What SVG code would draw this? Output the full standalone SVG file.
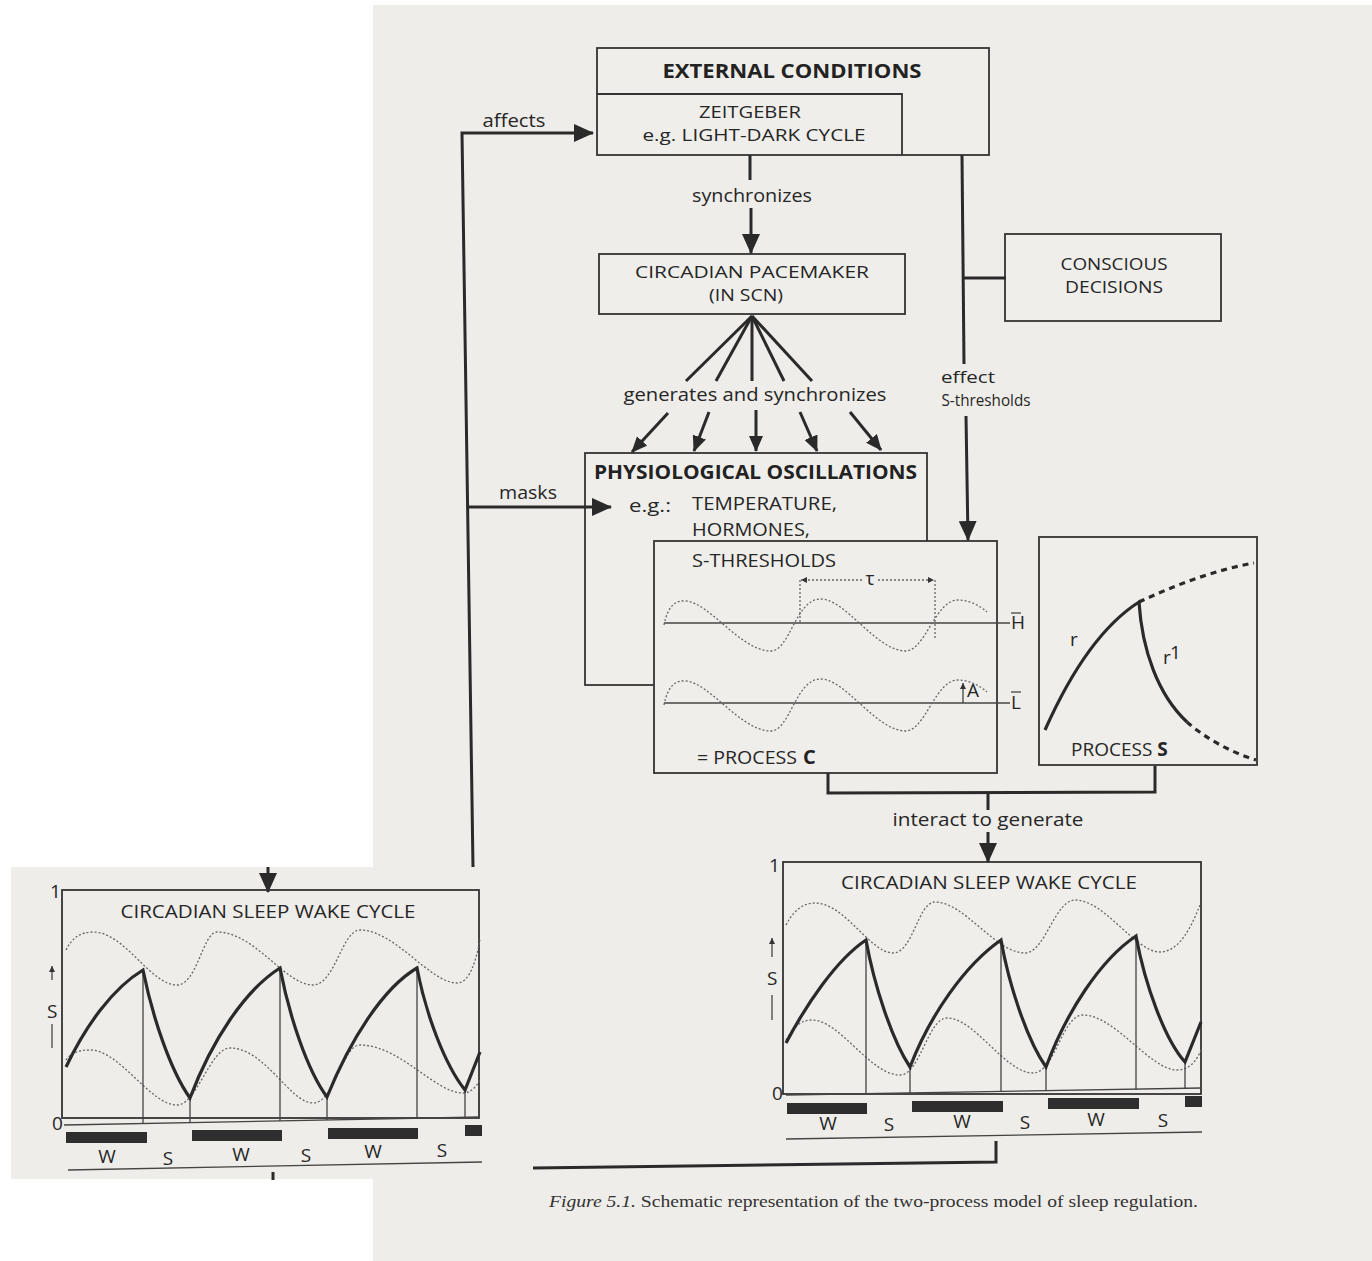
<svg xmlns="http://www.w3.org/2000/svg" width="1372" height="1261" viewBox="0 0 1372 1261">
<style>
.t{font-family:"Open Sans","Liberation Sans",sans-serif;fill:#262626;font-size:19px}
.tb{font-family:"Open Sans","Liberation Sans",sans-serif;fill:#222;font-size:20px;font-weight:bold}
.t2{font-family:"Open Sans","Liberation Sans",sans-serif;fill:#262626;font-size:17px}
.box{fill:#efeeea;stroke:#333;stroke-width:1.8}
.frame{fill:none;stroke:#333;stroke-width:1.8}
.ln{fill:none;stroke:#2a2a2a;stroke-width:3}
.thin{fill:none;stroke:#444;stroke-width:1.3}
.dot{fill:none;stroke:#666;stroke-width:1.3;stroke-dasharray:2 2}
.thick{fill:none;stroke:#2a2a2a;stroke-width:3.2;stroke-linejoin:miter}
.dash{fill:none;stroke:#2a2a2a;stroke-width:3.2;stroke-dasharray:6 5}
.bar{fill:#2e2e2e}
.cap{font-family:"Liberation Serif",serif;fill:#333;font-size:16px}
</style>
<defs>
<marker id="ah" viewBox="0 0 20 18" refX="19" refY="9" markerWidth="20" markerHeight="18" orient="auto" markerUnits="userSpaceOnUse"><path d="M0,0 L20,9 L0,18 z" fill="#2a2a2a"/></marker>
<marker id="ahs" viewBox="0 0 16 14" refX="15" refY="7" markerWidth="16" markerHeight="14" orient="auto" markerUnits="userSpaceOnUse"><path d="M0,0 L16,7 L0,14 z" fill="#2a2a2a"/></marker>
<marker id="tiny" viewBox="0 0 6 6" refX="6" refY="3" markerWidth="6" markerHeight="6" orient="auto" markerUnits="userSpaceOnUse"><path d="M0,0 L6,3 L0,6 z" fill="#333"/></marker>
</defs>
<rect x="0" y="0" width="1372" height="1261" fill="#ffffff"/>
<rect x="373" y="5" width="999" height="1256" fill="#eeede9"/>

<g id="external-conditions">
<rect class="box" x="597" y="48" width="392" height="107"/>
<polyline class="frame" points="597,94 902,94 902,155"/>
<text class="tb" x="792" y="78" text-anchor="middle" textLength="259" lengthAdjust="spacingAndGlyphs">EXTERNAL CONDITIONS</text>
<text class="t2" x="750" y="118" text-anchor="middle" textLength="102" lengthAdjust="spacingAndGlyphs">ZEITGEBER</text>
<text class="t2" x="754" y="141" text-anchor="middle" textLength="223" lengthAdjust="spacingAndGlyphs">e.g. LIGHT-DARK CYCLE</text>
</g>

<g id="circadian-pacemaker">
<rect class="box" x="599" y="254" width="306" height="60"/>
<text class="t2" x="752" y="278" text-anchor="middle" textLength="234" lengthAdjust="spacingAndGlyphs">CIRCADIAN PACEMAKER</text>
<text class="t2" x="746" y="301" text-anchor="middle" textLength="74" lengthAdjust="spacingAndGlyphs">(IN SCN)</text>
</g>

<g id="conscious-decisions">
<rect class="box" x="1005" y="234" width="216" height="87"/>
<text class="t2" x="1114" y="270" text-anchor="middle" textLength="107" lengthAdjust="spacingAndGlyphs">CONSCIOUS</text>
<text class="t2" x="1114" y="293" text-anchor="middle" textLength="98" lengthAdjust="spacingAndGlyphs">DECISIONS</text>
</g>

<g id="physiological-oscillations">
<rect class="box" x="585" y="453" width="342" height="232"/>
<text class="tb" x="594" y="479" textLength="323" lengthAdjust="spacingAndGlyphs">PHYSIOLOGICAL OSCILLATIONS</text>
<text class="t" x="629" y="512" textLength="42" lengthAdjust="spacingAndGlyphs">e.g.:</text>
<text class="t" x="692" y="510" textLength="145" lengthAdjust="spacingAndGlyphs">TEMPERATURE,</text>
<text class="t" x="692" y="536" textLength="118" lengthAdjust="spacingAndGlyphs">HORMONES,</text>
</g>

<g id="process-c">
<rect class="box" x="654" y="541" width="343" height="232"/>
<text class="t" x="692" y="567" textLength="144" lengthAdjust="spacingAndGlyphs">S-THRESHOLDS</text>
<line class="dot" x1="800" y1="580" x2="800" y2="622"/>
<line class="dot" x1="935" y1="580" x2="935" y2="640"/>
<line class="dot" x1="862" y1="580" x2="801" y2="580" marker-end="url(#tiny)"/>
<line class="dot" x1="878" y1="580" x2="934" y2="580" marker-end="url(#tiny)"/>
<text class="t" x="870" y="585" text-anchor="middle" font-size="16">τ</text>
<line class="thin" x1="664" y1="623" x2="1010" y2="623" stroke-width="1.8"/>
<line class="thin" x1="664" y1="703" x2="1010" y2="703" stroke-width="1.8"/>
<text class="t" x="1011" y="629" font-size="15">H</text>
<line class="thin" x1="1011" y1="613" x2="1021" y2="613"/>
<text class="t" x="1011" y="709" font-size="15">L</text>
<line class="thin" x1="1011" y1="692" x2="1021" y2="692"/>
<path class="dot" d="M664,625 C668,605 676,600 686,601 C710,603 740,650 770,651 C790,652 795,600 820,599 C845,598 875,650 905,651 C925,652 935,600 958,600 C970,600 980,606 987,612"/>
<path class="dot" d="M664,705 C668,685 676,680 686,681 C710,683 740,730 770,731 C790,732 795,680 820,679 C845,678 875,730 905,731 C925,732 935,680 958,680 C970,680 980,686 987,692"/>
<line class="thin" x1="963" y1="703" x2="963" y2="683" marker-end="url(#tiny)"/>
<text class="t" x="967" y="697" font-size="12">A</text>
<text class="t" x="697" y="764" textLength="100" lengthAdjust="spacingAndGlyphs">= PROCESS</text>
<text class="tb" x="803" y="764" font-size="19">C</text>
</g>

<g id="process-s">
<rect class="box" x="1039" y="537" width="218" height="228"/>
<path class="thick" d="M1045,730 C1065,685 1095,630 1139,602 C1142,650 1158,695 1187,722"/>
<path class="dash" d="M1139,602 C1175,585 1215,570 1254,563"/>
<path class="dash" d="M1187,722 C1205,738 1230,752 1256,760"/>
<text class="t" x="1070" y="646" font-size="18">r</text>
<text class="t" x="1163" y="664" font-size="17">r</text>
<text class="t" x="1170" y="659" font-size="13">1</text>
<text class="t" x="1071" y="756" font-size="16.5">PROCESS <tspan font-weight="bold">S</tspan></text>
</g>

<g id="sleep-wake-cycle-right">
<rect class="box" x="783" y="862" width="418" height="232"/>
<text class="t" x="989" y="889" text-anchor="middle" textLength="296" lengthAdjust="spacingAndGlyphs">CIRCADIAN SLEEP WAKE CYCLE</text>
<text class="t" x="769" y="872" font-size="13">1</text>
<text class="t" x="772" y="1100" font-size="14">0</text>
<line class="thin" x1="772" y1="957" x2="772" y2="938" marker-end="url(#tiny)"/>
<text class="t" x="767" y="985" font-size="14">S</text>
<line class="thin" x1="772" y1="995" x2="772" y2="1020"/>
<line class="thin" x1="786" y1="1095" x2="1201" y2="1088"/>
<path class="dot" d="M786,925 C795,908 805,903 815,903 C845,903 870,953 893,953 C913,953 918,902 935,902 C965,902 995,953 1025,953 C1045,953 1055,900 1075,900 C1105,900 1135,952 1160,952 C1180,952 1192,925 1200,905"/>
<path class="dot" d="M786,1040 C795,1025 802,1020 812,1020 C840,1020 870,1075 900,1075 C920,1075 928,1018 947,1018 C975,1018 1005,1073 1033,1073 C1055,1073 1062,1015 1083,1015 C1115,1015 1150,1070 1177,1070 C1190,1070 1197,1060 1201,1050"/>
<path class="thin" d="M866,940 V1094 M910,1067 V1094 M1001,940 V1092 M1046,1067 V1091 M1136,936 V1090 M1185,1062 V1089"/>
<path class="thick" d="M786,1043 C806,1005 836,960 866,940 C874,985 892,1040 910,1067 C930,1015 965,965 1001,940 C1009,985 1027,1040 1046,1067 C1066,1013 1100,960 1136,936 C1145,985 1165,1040 1185,1062 L1201,1022"/>
<rect class="bar" x="787" y="1103" width="80" height="11"/>
<rect class="bar" x="912" y="1101" width="91" height="11"/>
<rect class="bar" x="1048" y="1098" width="91" height="11"/>
<rect class="bar" x="1185" y="1096" width="17" height="11"/>
<text class="t" x="828" y="1130" text-anchor="middle">W</text>
<text class="t" x="889" y="1131" text-anchor="middle">S</text>
<text class="t" x="962" y="1128" text-anchor="middle">W</text>
<text class="t" x="1025" y="1129" text-anchor="middle">S</text>
<text class="t" x="1096" y="1126" text-anchor="middle">W</text>
<text class="t" x="1163" y="1127" text-anchor="middle">S</text>
<line class="thin" x1="786" y1="1139" x2="1202" y2="1132" stroke-width="1.8"/>
</g>

<g id="connectors">
<polyline class="ln" points="473,867 462,133 593,133" marker-end="url(#ah)"/>
<line class="ln" x1="467.6" y1="507" x2="611" y2="507" marker-end="url(#ah)"/>
<line class="ln" x1="750" y1="155" x2="750" y2="180"/>
<line class="ln" x1="751" y1="208" x2="751" y2="253" marker-end="url(#ah)"/>
<line class="ln" x1="752" y1="316" x2="686" y2="381"/>
<line class="ln" x1="752" y1="316" x2="716" y2="381"/>
<line class="ln" x1="752" y1="316" x2="752" y2="381"/>
<line class="ln" x1="752" y1="316" x2="784" y2="381"/>
<line class="ln" x1="752" y1="316" x2="812" y2="381"/>
<line class="ln" x1="668" y1="413" x2="632" y2="452" marker-end="url(#ahs)"/>
<line class="ln" x1="709" y1="412" x2="694" y2="451" marker-end="url(#ahs)"/>
<line class="ln" x1="756" y1="410" x2="756" y2="451" marker-end="url(#ahs)"/>
<line class="ln" x1="800" y1="412" x2="817" y2="451" marker-end="url(#ahs)"/>
<line class="ln" x1="850" y1="412" x2="881" y2="450" marker-end="url(#ahs)"/>
<line class="ln" x1="962" y1="155" x2="964" y2="364"/>
<line class="ln" x1="964" y1="278" x2="1006" y2="278"/>
<line class="ln" x1="966" y1="416" x2="968" y2="540" marker-end="url(#ah)"/>
<polyline class="ln" points="828,773 828,793 1155,792 1155,766"/>
<line class="ln" x1="988" y1="793" x2="988" y2="810"/>
<line class="ln" x1="988" y1="832" x2="988" y2="862" marker-end="url(#ah)"/>
<polyline class="ln" points="996,1141 996,1162 533,1168"/>
</g>
<text class="t" x="514" y="127" text-anchor="middle" textLength="63" lengthAdjust="spacingAndGlyphs">affects</text>
<text class="t" x="752" y="202" text-anchor="middle" textLength="120" lengthAdjust="spacingAndGlyphs">synchronizes</text>
<text class="t" x="528" y="499" text-anchor="middle" textLength="58" lengthAdjust="spacingAndGlyphs">masks</text>
<text class="t" x="755" y="401" text-anchor="middle" textLength="263" lengthAdjust="spacingAndGlyphs">generates and synchronizes</text>
<text class="t2" x="968" y="383" text-anchor="middle" textLength="54" lengthAdjust="spacingAndGlyphs">effect</text>
<text class="t2" x="986" y="406" text-anchor="middle" textLength="89" lengthAdjust="spacingAndGlyphs">S-thresholds</text>
<text class="t" x="988" y="826" text-anchor="middle" textLength="191" lengthAdjust="spacingAndGlyphs">interact to generate</text>

<rect x="11" y="867" width="471" height="312" fill="#eeede9"/>
<g id="sleep-wake-cycle-left">
<line class="ln" x1="268" y1="867" x2="268" y2="892" marker-end="url(#ah)"/>
<rect class="frame" x="62" y="890" width="417" height="228"/>
<text class="t" x="268" y="918" text-anchor="middle" textLength="295" lengthAdjust="spacingAndGlyphs">CIRCADIAN SLEEP WAKE CYCLE</text>
<text class="t" x="50" y="898" font-size="13">1</text>
<text class="t" x="52" y="1130" font-size="14">0</text>
<line class="thin" x1="52" y1="980" x2="52" y2="966" marker-end="url(#tiny)"/>
<text class="t" x="47" y="1018" font-size="14">S</text>
<line class="thin" x1="52" y1="1024" x2="52" y2="1048"/>
<line class="thin" x1="64" y1="1125" x2="480" y2="1117"/>
<path class="dot" d="M66,950 C72,938 80,932 93,932 C125,932 150,985 177,985 C197,985 203,932 217,932 C255,932 285,985 313,985 C335,985 342,930 360,930 C395,930 430,983 457,983 C470,983 476,960 480,940"/>
<path class="dot" d="M66,1060 C72,1052 80,1050 90,1050 C120,1050 150,1105 177,1105 C197,1105 210,1048 230,1048 C265,1048 290,1103 313,1103 C335,1103 342,1045 360,1045 C400,1045 435,1093 463,1093 C472,1093 477,1085 480,1080"/>
<path class="thin" d="M143,970 V1124 M190,1098 V1123 M280,968 V1121 M327,1097 V1120 M417,968 V1118 M465,1090 V1117"/>
<path class="thick" d="M66,1067 C86,1025 113,988 143,970 C152,1015 170,1070 190,1098 C212,1040 245,990 280,968 C289,1015 307,1070 327,1097 C350,1040 383,988 417,968 C426,1015 445,1065 465,1090 L480,1052"/>
<rect class="bar" x="66" y="1132" width="81" height="11"/>
<rect class="bar" x="192" y="1130" width="90" height="11"/>
<rect class="bar" x="328" y="1128" width="90" height="11"/>
<rect class="bar" x="465" y="1125" width="17" height="11"/>
<text class="t" x="107" y="1163" text-anchor="middle">W</text>
<text class="t" x="168" y="1165" text-anchor="middle">S</text>
<text class="t" x="241" y="1161" text-anchor="middle">W</text>
<text class="t" x="306" y="1162" text-anchor="middle">S</text>
<text class="t" x="373" y="1158" text-anchor="middle">W</text>
<text class="t" x="442" y="1157" text-anchor="middle">S</text>
<line class="thin" x1="68" y1="1170" x2="482" y2="1162" stroke-width="1.8"/>
<line class="ln" x1="273" y1="1172" x2="273" y2="1180"/>
</g>

<text class="cap" x="549" y="1207" textLength="649" lengthAdjust="spacingAndGlyphs"><tspan font-style="italic">Figure 5.1.</tspan> Schematic representation of the two-process model of sleep regulation.</text>
</svg>
